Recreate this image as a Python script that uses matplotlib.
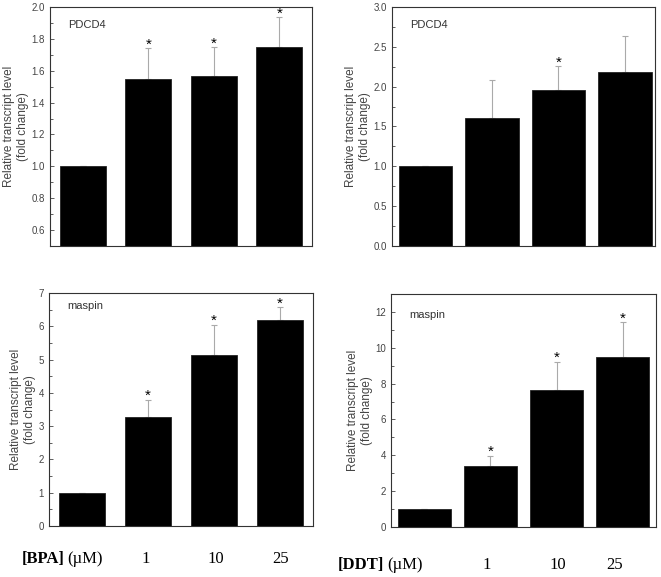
import numpy as np
import matplotlib.pyplot as plt
from matplotlib.ticker import MultipleLocator

# bar order: control, 1, 10, 25 uM
doses = ["1", "10", "25"]

bpa_pdcd4 = [1.00, 1.55, 1.57, 1.75]
bpa_pdcd4_err = [0.0, 0.19, 0.18, 0.185]
bpa_pdcd4_sig = [False, True, True, True]

ddt_pdcd4 = [1.00, 1.61, 1.955, 2.19]
ddt_pdcd4_err = [0.0, 0.47, 0.30, 0.44]
ddt_pdcd4_sig = [False, False, True, False]

bpa_maspin = [1.00, 3.27, 5.13, 6.19]
bpa_maspin_err = [0.0, 0.53, 0.92, 0.39]
bpa_maspin_sig = [False, True, True, True]

ddt_maspin = [1.00, 3.40, 7.67, 9.49]
ddt_maspin_err = [0.0, 0.58, 1.56, 1.92]
ddt_maspin_sig = [False, True, True, True]

W, H = 661, 577
fig = plt.figure(figsize=(W / 100, H / 100), dpi=100)
plt.rcParams["font.family"] = ["Liberation Sans", "DejaVu Sans"]


def px_axes(l, r, t, b):
    return fig.add_axes([l / W, 1 - b / H, (r - l) / W, (b - t) / H])


def panel(ax, vals, errs, sig, gene, gene_y, ylim, major, minor, width, xlim):
    x = np.arange(len(vals))
    ax.bar(x, vals, width=width, color="black", edgecolor="#222222", linewidth=0.6, zorder=2)
    lower = np.zeros(len(vals))
    ax.errorbar(x, vals, yerr=[lower, errs], fmt="none", ecolor="#aaaaaa",
                elinewidth=0.8, capsize=2.5, capthick=0.8, zorder=1)
    for xi, v, e, s in zip(x, vals, errs, sig):
        if s:
            ax.annotate("*", (xi, v + e), xytext=(0, -2.5), textcoords="offset points",
                        ha="center", va="bottom", fontsize=11, color="black")
    ax.set_xlim(*xlim)
    ax.set_ylim(*ylim)
    ax.yaxis.set_major_locator(MultipleLocator(major))
    ax.yaxis.set_minor_locator(MultipleLocator(minor))
    ax.set_xticks([])
    ax.tick_params(axis="y", which="both", direction="in", labelsize=7,
                   labelcolor="#444444", color="#444444", right=False)
    ax.tick_params(axis="y", which="major", length=3, width=0.6)
    ax.tick_params(axis="y", which="minor", length=2, width=0.6)
    for sp in ax.spines.values():
        sp.set_color("#333333")
        sp.set_linewidth(0.8)
    ax.set_ylabel("Relative transcript level\n(fold change)", fontsize=8.5,
                  color="#444444", labelpad=2)
    ax.text(0.07, gene_y, gene, transform=ax.transAxes, fontsize=8,
            color="#333333", ha="left", va="center")


ax1 = px_axes(50, 312, 7, 246)
panel(ax1, bpa_pdcd4, bpa_pdcd4_err, bpa_pdcd4_sig, "PDCD4", 0.926,
      (0.5, 2.0), 0.2, 0.1, 0.7, (-0.5, 3.5))
ax1.yaxis.set_major_formatter(plt.FormatStrFormatter("%.1f"))
ax1.set_yticks(np.arange(0.6, 2.01, 0.2))

ax2 = px_axes(392, 655, 7, 246)
panel(ax2, ddt_pdcd4, ddt_pdcd4_err, ddt_pdcd4_sig, "PDCD4", 0.925,
      (0.0, 3.0), 0.5, 0.25, 0.8, (-0.5, 3.45))
ax2.yaxis.set_major_formatter(plt.FormatStrFormatter("%.1f"))

ax3 = px_axes(49, 313, 293, 526)
panel(ax3, bpa_maspin, bpa_maspin_err, bpa_maspin_sig, "maspin", 0.945,
      (0, 7), 1, 0.5, 0.7, (-0.5, 3.5))

ax4 = px_axes(391, 656, 294, 527)
panel(ax4, ddt_maspin, ddt_maspin_err, ddt_maspin_sig, "maspin", 0.91,
      (0, 13), 2, 1, 0.8, (-0.5, 3.5))

# dose labels under the bottom panels (pixel x of each label)
serif = ["Liberation Serif", "DejaVu Serif"]
label_rows = [
    ("[BPA]", 22, 67, 559, [146, 216, 281]),
    ("[DDT]", 338, 387, 565, [487, 558, 615]),
]
for chem, x_chem, x_unit, ypx, xs in label_rows:
    yfig = 1 - ypx / H
    fig.text(x_chem / W, yfig, chem, ha="left", va="center", fontsize=12,
             family=serif, weight="bold")
    fig.text(x_unit / W, yfig, "(\u00b5M)", ha="left", va="center", fontsize=12,
             family=serif)
    for xp, d in zip(xs, doses):
        fig.text(xp / W, yfig, d, ha="center", va="center", fontsize=12,
                 family=serif)

fig.savefig("out.png", dpi=100)
